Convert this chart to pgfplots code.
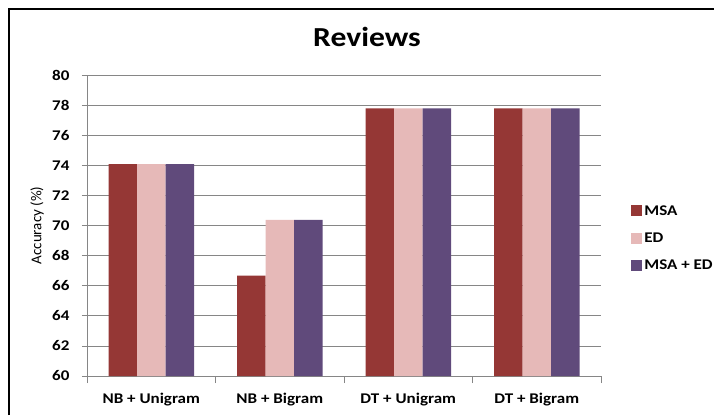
\documentclass[border=0pt]{standalone}
\usepackage{pgfplots}
\pgfplotsset{compat=1.18}
\usepackage{fontspec}
\setmainfont{Carlito}[FakeStretch=1.15]
\newfontfamily\plainfont{Carlito}
\definecolor{msa}{HTML}{953735}
\definecolor{ed}{HTML}{E6B9B8}
\definecolor{msaed}{HTML}{604A7B}
\definecolor{gridc}{HTML}{868686}
\begin{document}
\begin{tikzpicture}[x=1pt,y=1pt]
\useasboundingbox (0,0) rectangle (714,415);
\draw[line width=2pt,black] (9,0) -- (9,406) -- (714,406);
\node[font=\fontsize{27.5}{30}\selectfont\bfseries] at (367,378) {Reviews};
\begin{axis}[
  at={(87pt,39pt)}, anchor=south west,
  scale only axis, width=514pt, height=301pt,
  ybar=0pt, bar width=28.5pt,
  xmin=-0.5, xmax=3.5, ymin=60, ymax=80,
  ytick={60,62,...,80},
  xtick={0,1,2,3},
  xticklabels={NB + Unigram, NB + Bigram, DT + Unigram, DT + Bigram},
  axis x line*=bottom, axis y line*=left,
  axis line style={gridc, line width=0.8pt, -},
  ymajorgrids, grid style={gridc, line width=0.8pt},
  major y tick style={gridc, line width=0.8pt},
  major x tick style={draw=none},
  tick align=outside, major tick length=5pt,
  extra x ticks={-0.5,0.5,1.5,2.5,3.5},
  extra x tick labels={},
  extra x tick style={major tick length=7pt, major x tick style={draw=gridc, line width=0.8pt}, grid=none},
  /pgf/number format/assume math mode=true,
  ticklabel style={font=\fontsize{14.8}{17}\selectfont\bfseries},
  xticklabel style={yshift=-9pt},
  yticklabel style={xshift=-9pt},
  ylabel={\plainfont Accuracy (\%)},
  ylabel style={font=\fontsize{15}{17}\selectfont},
  every axis y label/.append style={at={(-50pt,150.5pt)}, anchor=center},
  legend style={draw=none, fill=none, at={(1.053,0.458)}, anchor=west,
    font=\fontsize{14.8}{17}\selectfont\bfseries, row sep=12pt,
    /tikz/every even column/.append style={column sep=2pt}},
  legend cell align=left,
  legend image code/.code={\fill[#1] (0pt,-5.5pt) rectangle (11pt,5.5pt);},
]
\addplot[fill=msa, draw=none] coordinates {(0,74.07) (1,66.67) (2,77.78) (3,77.78)};
\addplot[fill=ed, draw=none] coordinates {(0,74.07) (1,70.37) (2,77.78) (3,77.78)};
\addplot[fill=msaed, draw=none] coordinates {(0,74.07) (1,70.37) (2,77.78) (3,77.78)};
\legend{MSA, ED, MSA + ED}
\end{axis}
\end{tikzpicture}
\end{document}
